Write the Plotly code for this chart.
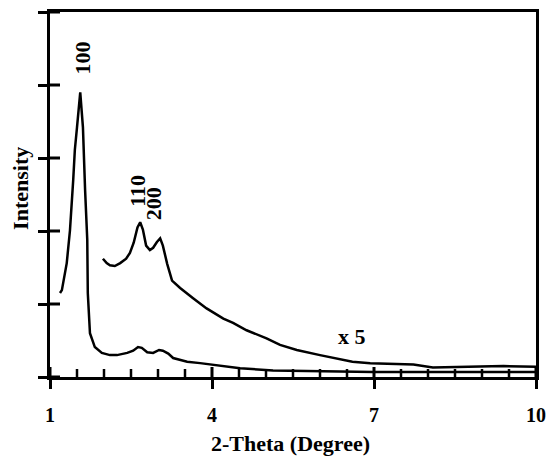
import plotly.graph_objects as go

# Lower XRD pattern (as measured)
x_main = [1.185, 1.22, 1.31, 1.37, 1.43, 1.46, 1.50, 1.56, 1.61, 1.63, 1.65, 1.69, 1.70, 1.74,
          1.83, 1.96, 2.11, 2.24, 2.43, 2.54, 2.63, 2.70, 2.80, 2.91, 3.02, 3.09, 3.19, 3.28,
          3.54, 3.78, 4.52, 5.13, 5.76, 6.98, 8.0, 9.0, 10.0]
y_main = [1.15, 1.19, 1.56, 2.01, 2.70, 3.11, 3.42, 3.90, 3.42, 2.93, 2.56, 1.88, 1.15, 0.60,
          0.41, 0.33, 0.30, 0.30, 0.33, 0.36, 0.41, 0.40, 0.34, 0.33, 0.37, 0.36, 0.32, 0.26,
          0.21, 0.19, 0.12, 0.09, 0.08, 0.07, 0.07, 0.07, 0.07]

# Magnified (x 5) pattern
x_mag = [1.98, 2.05, 2.11, 2.20, 2.30, 2.41, 2.48, 2.55, 2.62, 2.67, 2.72, 2.78, 2.85, 2.91,
         2.98, 3.04, 3.09, 3.17, 3.26, 3.41, 3.65, 3.90, 4.21, 4.39, 4.64, 4.85, 5.01, 5.26,
         5.57, 6.00, 6.37, 6.60, 6.93, 7.40, 7.73, 8.09, 8.60, 8.96, 9.40, 10.0]
y_mag = [1.62, 1.56, 1.53, 1.52, 1.56, 1.62, 1.70, 1.84, 2.05, 2.12, 2.02, 1.80, 1.74, 1.77,
         1.85, 1.90, 1.80, 1.55, 1.32, 1.22, 1.08, 0.94, 0.80, 0.74, 0.64, 0.58, 0.53, 0.44,
         0.37, 0.30, 0.24, 0.21, 0.19, 0.18, 0.17, 0.13, 0.14, 0.14, 0.15, 0.14]

x_tickvals = [1, 4, 7, 10]
x_ticktext = ["1", "4", "7", "10"]
x_minor_tickvals = [1.5, 2, 2.5, 3, 3.5, 4.5, 5, 5.5, 6, 6.5, 7.5, 8, 8.5, 9, 9.5]
y_tickvals = [0, 1, 2, 3, 4, 5]

peak_labels = ["100", "110", "200"]
peak_x = [1.62, 2.63, 2.93]
peak_y = [4.37, 2.55, 2.37]

FONT = "Liberation Serif"
AF = dict(family=FONT, size=22, color="black", weight="bold")

W, H = 549, 458
ML, MR, MT, MB = 50, 13, 12, 81
PW, PH = W - ML - MR, H - MT - MB
X0, X1, Y0, Y1 = 1, 10, 0, 5
XPX = PW / (X1 - X0)   # pixels per x unit
YPX = PH / (Y1 - Y0)   # pixels per y unit

fig = go.Figure()
fig.add_trace(go.Scatter(x=x_main, y=y_main, mode="lines",
                         line=dict(color="black", width=2.5), showlegend=False))
fig.add_trace(go.Scatter(x=x_mag, y=y_mag, mode="lines",
                         line=dict(color="black", width=2.5), showlegend=False))

# inward halves of the crossing tick marks (outward halves come from the axes)
def vticks(vals, length_px):
    xs, ys = [], []
    for v in vals:
        xs += [v, v, None]
        ys += [Y0, Y0 + length_px / YPX, None]
    return xs, ys

def hticks(vals, length_px):
    xs, ys = [], []
    for v in vals:
        xs += [X0, X0 + length_px / XPX, None]
        ys += [v, v, None]
    return xs, ys

for (xs, ys), w in [(vticks(x_tickvals, 10), 3), (vticks(x_minor_tickvals, 8), 2.5),
                    (hticks(y_tickvals, 10), 3)]:
    fig.add_trace(go.Scatter(x=xs, y=ys, mode="lines", line=dict(color="black", width=w),
                             showlegend=False, hoverinfo="skip", cliponaxis=False))

for lab, px, py in zip(peak_labels, peak_x, peak_y):
    fig.add_annotation(x=px, y=py, text=lab, showarrow=False, textangle=-90,
                       font=AF, xanchor="center", yanchor="middle")
fig.add_annotation(x=6.59, y=0.55, text="x 5", showarrow=False,
                   font=AF, xanchor="center", yanchor="middle")
fig.add_annotation(xref="paper", yref="paper", x=-0.0597, y=0.518, text="Intensity",
                   showarrow=False, textangle=-90, font=AF,
                   xanchor="center", yanchor="middle")
fig.add_annotation(xref="paper", yref="paper", x=0.494, y=-0.182, text="2-Theta (Degree)",
                   showarrow=False, font=AF, xanchor="center", yanchor="middle")

fig.update_layout(
    width=W, height=H,
    margin=dict(l=ML, r=MR, t=MT, b=MB, autoexpand=False),
    paper_bgcolor="white", plot_bgcolor="white",
    font=dict(family=FONT, size=20, color="black", weight="bold"),
    xaxis=dict(range=[X0, X1], tickmode="array", tickvals=x_tickvals, ticktext=x_ticktext,
               ticks="outside", ticklen=9, tickwidth=3, tickcolor="black",
               showline=True, linewidth=3, linecolor="black", mirror=True,
               showgrid=False, zeroline=False, ticklabelstandoff=9, automargin=False,
               tickfont=dict(family=FONT, size=20, color="black", weight="bold")),
    yaxis=dict(range=[Y0, Y1], tickvals=y_tickvals, showticklabels=False,
               ticks="outside", ticklen=9, tickwidth=3, tickcolor="black",
               showline=True, linewidth=3, linecolor="black", mirror=True,
               showgrid=False, zeroline=False, automargin=False),
)

fig.write_html("out.html")
